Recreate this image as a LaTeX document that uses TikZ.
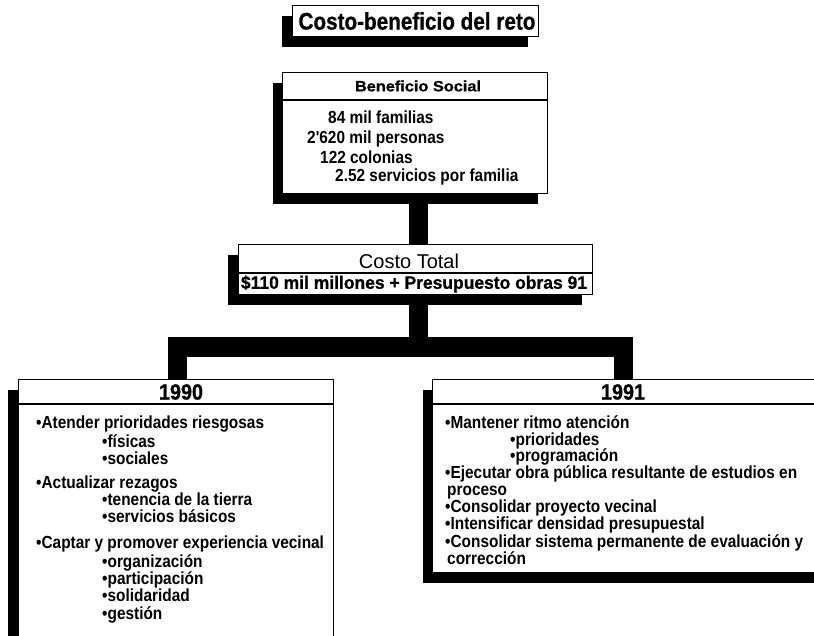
\documentclass[tikz,border=0pt]{standalone}
\usepackage{fontspec}
\setmainfont{Liberation Sans}
\newfontfamily\cnd{Liberation Sans}[FakeStretch=0.88]
\newfontfamily\heavy{Liberation Sans}[FakeStretch=0.9,BoldFeatures={FakeBold=0.7}]
\usetikzlibrary{calc,shadows}
\begin{document}
\begin{tikzpicture}[x=1pt,y=-1pt,
  box/.style={draw=black,line width=1.3pt,fill=white,inner sep=0pt,anchor=north west},
  shad/.style={drop shadow={shadow xshift=-#1pt,shadow yshift=-10pt,fill=black,opacity=1}},
  divline/.style={line width=1.3pt},
  bar/.style={line width=19pt,black,line join=miter},
  lst/.style={anchor=west,inner sep=0pt,text height=12pt,text depth=4pt,
    font=\cnd\bfseries\fontsize{17.5}{18}\selectfont},
  ctr/.style={inner sep=0pt},
]
\clip (0,0) rectangle (814,636);
\fill[white] (0,0) rectangle (814,636);

% title
\node[box,shad=11,minimum width=246pt,minimum height=31pt] (tbox) at (292,5) {};
\node[ctr,font=\heavy\bfseries\fontsize{24}{24}\selectfont] (ttl) at (417,21) {\resizebox{237pt}{\height}{Costo-beneficio del reto}};

% beneficio social
\node[box,shad=10,minimum width=265pt,minimum height=121pt] (ben) at (282,72) {};
\draw[divline] ($(ben.north west)+(0,28)$) -- ($(ben.north east)+(0,28)$);
\node[ctr,font=\heavy\bfseries\fontsize{15}{15}\selectfont] (benh) at (418,86) {\resizebox{126pt}{\height}{Beneficio Social}};
\node[lst] (b1) at (328,120) {84 mil familias};
\node[lst] (b2) at (307,140) {2'620 mil personas};
\node[lst] (b3) at (320,160) {122 colonias};
\node[lst] (b4) at (335,178) {2.52 servicios por familia};

% costo total
\node[box,shad=11,minimum width=354pt,minimum height=50pt] (cost) at (238,244) {};
\draw[divline] ($(cost.north west)+(0,29)$) -- ($(cost.north east)+(0,29)$);
\node[ctr,font=\fontsize{20}{20}\selectfont] (costh) at (409,261) {Costo Total};
\node[ctr,font=\heavy\bfseries\fontsize{18}{18}\selectfont] (costv) at (414,284) {\resizebox{346pt}{\height}{\$110 mil millones + Presupuesto obras 91}};

% year boxes
\node[box,shad=11,minimum width=315pt,minimum height=300pt] (y90) at (18,379) {};
\draw[divline] ($(y90.north west)+(0,25)$) -- ($(y90.north east)+(0,25)$);
\node[ctr,font=\heavy\bfseries\fontsize{22}{22}\selectfont] (h90) at (181,392) {1990};

\node[box,shad=10,minimum width=398pt,minimum height=193pt] (y91) at (432,379) {};
\draw[divline] ($(y91.north west)+(0,25)$) -- ($(y91.north east)+(0,25)$);
\node[ctr,font=\heavy\bfseries\fontsize{22}{22}\selectfont] (h91) at (623,392) {1991};

% connectors
\coordinate (hb) at (418,347);
\draw[bar] ([xshift=3pt]ben.south) -- ([xshift=3pt]ben.south |- cost.north);
\draw[bar] ([xshift=3pt]cost.south) -- ([xshift=3pt]cost.south |- hb);
\draw[bar] ([xshift=1.5pt]y90.north) |- (hb) -| ([xshift=-8pt]y91.north);

% 1990 list
\node[lst] (a1) at (36,424) {•Atender prioridades riesgosas};
\node[lst] (a2) at (102,443) {•físicas};
\node[lst] (a3) at (102,460) {•sociales};
\node[lst] (a4) at (36,484) {•Actualizar rezagos};
\node[lst] (a5) at (102,501) {•tenencia de la tierra};
\node[lst] (a6) at (102,518) {•servicios básicos};
\node[lst] (a7) at (36,544) {•Captar y promover experiencia vecinal};
\node[lst] (a8) at (102,563) {•organización};
\node[lst] (a9) at (102,580) {•participación};
\node[lst] (a10) at (102,597) {•solidaridad};
\node[lst] (a11) at (102,615) {•gestión};

% 1991 list
\node[lst] (c1) at (445,424) {•Mantener ritmo atención};
\node[lst] (c2) at (510,441) {•prioridades};
\node[lst] (c3) at (510,457) {•programación};
\node[lst] (c4) at (445,474) {•Ejecutar obra pública resultante de estudios en};
\node[lst] (c5) at (447,491) {proceso};
\node[lst] (c6) at (445,508) {•Consolidar proyecto vecinal};
\node[lst] (c7) at (445,525) {•Intensificar densidad presupuestal};
\node[lst] (c8) at (445,543) {•Consolidar sistema permanente de evaluación y};
\node[lst] (c9) at (447,560) {corrección};
\end{tikzpicture}
\end{document}
